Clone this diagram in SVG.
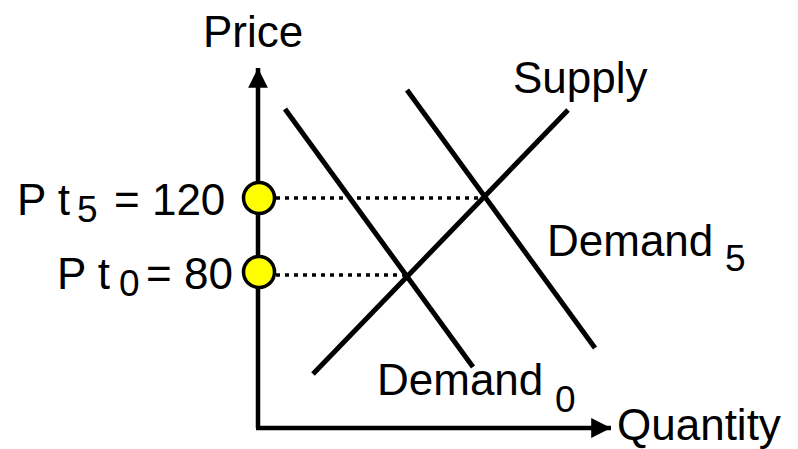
<svg xmlns="http://www.w3.org/2000/svg" width="798" height="449" viewBox="0 0 798 449">
<style>
text{font-family:"Liberation Sans",Arial,sans-serif;font-size:44px;fill:#000}
.sub{font-size:37px}
.ln{stroke:#000;stroke-width:5;fill:none}
.ax{stroke:#000;stroke-width:4.5;fill:none}
.dot{stroke:#000;stroke-width:3.5;stroke-dasharray:4 5;fill:none}
.pt{fill:#ffff00;stroke:#000;stroke-width:3.5}
</style>
<defs>
<marker id="ah" viewBox="0 0 10 10" refX="10" refY="5" markerWidth="4.4" markerHeight="4.6" markerUnits="strokeWidth" orient="auto">
<path d="M0,0 L10,5 L0,10 Z" fill="#000"/>
</marker>
</defs>
<rect width="798" height="449" fill="#fff"/>
<g id="connectors">
<path id="y-axis" class="ax" d="M258,428 L258,68" marker-end="url(#ah)"/>
<path id="x-axis" class="ax" d="M256,428 L611,428" marker-end="url(#ah)"/>
<path id="dot-120" class="dot" d="M276,198 L483,198"/>
<path id="dot-80" class="dot" d="M276,275 L407,275"/>
</g>
<g id="supply"><path class="ln" d="M313,374 L568,110"/><text x="513" y="93">Supply</text></g>
<g id="demand0"><path class="ln" d="M285,109 L473,367"/><text x="377" y="395">Demand<tspan class="sub" x="555" y="412">0</tspan></text></g>
<g id="demand5"><path class="ln" d="M407,90 L595,348"/><text x="547" y="256">Demand<tspan class="sub" x="725" y="271">5</tspan></text></g>
<g id="price-label"><text x="203" y="47">Price</text></g>
<g id="quantity-label"><text x="617" y="440">Quantity</text></g>
<g id="p120"><circle class="pt" cx="259" cy="198" r="15.5"/><text x="17" y="215">P t<tspan class="sub" x="77" y="222">5</tspan><tspan x="114" y="215">= 120</tspan></text></g>
<g id="p80"><circle class="pt" cx="259" cy="272" r="15.5"/><text x="57" y="289">P t<tspan class="sub" x="119" y="296">0</tspan><tspan x="146" y="289">= 80</tspan></text></g>
</svg>
